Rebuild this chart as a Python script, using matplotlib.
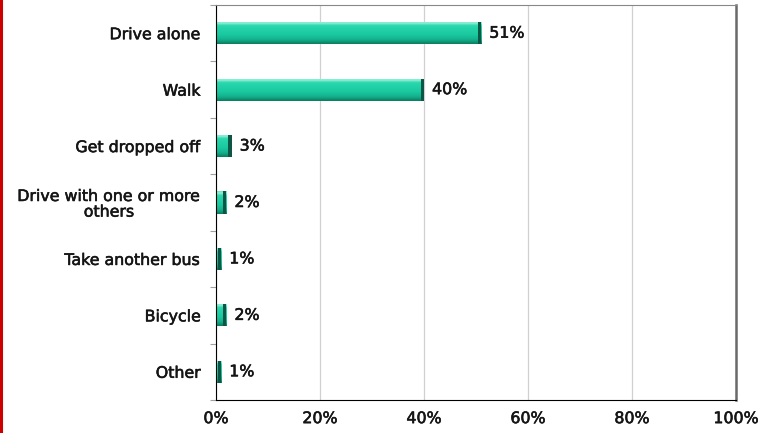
import numpy as np
import matplotlib
matplotlib.use("Agg")
import matplotlib.pyplot as plt
import matplotlib.patheffects as pe
from matplotlib.colors import LinearSegmentedColormap
from matplotlib.patches import Rectangle
from matplotlib.ticker import FuncFormatter, MultipleLocator

# commute mode shares (percent)
modes = ["Drive alone", "Walk", "Get dropped off", "Drive with one or more\nothers",
         "Take another bus", "Bicycle", "Other"]
shares = [51, 40, 3, 2, 1, 2, 1]

plt.rcParams['font.family'] = ['DejaVu Sans']
FS = 11.4
INK = "#151515"
# a touch heavier than the regular weight
heavy = [pe.withStroke(linewidth=0.4, foreground=INK)]

fig = plt.figure(figsize=(7.6, 4.33), dpi=100)
ax = fig.add_axes([216 / 760, 1 - 400 / 433, 520 / 760, 395 / 433])

pos = np.arange(len(modes))
bars = ax.barh(pos, shares, height=0.39, color="#19c79c", edgecolor="none", zorder=3)

# vertical shading inside each bar: light top edge, darker bottom edge
shade = LinearSegmentedColormap.from_list(
    "shade", [(0.0, "#5fe4c0"), (0.08, "#9ef2da"), (0.18, "#2ad8ae"),
              (0.6, "#1ac8a0"), (0.82, "#13b08b"), (1.0, "#0b7c60")])
grad = np.linspace(0, 1, 64).reshape(-1, 1)
for b, v in zip(bars, shares):
    y0 = b.get_y()
    h = b.get_height()
    # row 0 of grad goes to the top of the bar (y axis is inverted)
    im = ax.imshow(grad, cmap=shade, aspect="auto", origin="upper",
                   extent=(0, v, y0 + h, y0), zorder=4, interpolation="bicubic")
    im.set_clip_path(b)
    # dark end cap
    cap = min(0.6, v * 0.65)
    ax.add_patch(Rectangle((v - cap, y0), cap, h, facecolor="#0d5645",
                           edgecolor="none", zorder=5))
    ax.text(v + 1.55, y0 + h / 2, f"{v}%", va="center", ha="left",
            fontsize=FS, color=INK, zorder=6, path_effects=heavy)

ax.set_xlim(0, 100)
ax.set_ylim(len(modes) - 0.5, -0.5)
ax.xaxis.set_major_locator(MultipleLocator(20))
ax.xaxis.set_major_formatter(FuncFormatter(lambda x, _: f"{x:.0f}%"))
ax.grid(axis="x", color="#d0d0d0", linewidth=0.9, zorder=0)

ax.set_yticks(pos)
ax.set_yticklabels(modes, fontsize=FS, color=INK, multialignment="center",
                   linespacing=1.05)
ax.set_yticks(np.arange(len(modes) + 1) - 0.5, minor=True)
ax.tick_params(axis="y", which="major", length=0, pad=10.8)
ax.tick_params(axis="y", which="minor", length=4, color="#a0a0a0", width=0.8)
ax.tick_params(axis="x", length=0, pad=8, labelsize=FS, labelcolor=INK)
for lbl in ax.get_xticklabels() + ax.get_yticklabels():
    lbl.set_path_effects(heavy)

ax.spines["left"].set_color("black")
ax.spines["bottom"].set_color("black")
ax.spines["top"].set_color("#888888")
ax.spines["right"].set_color("#6a6a6a")
ax.spines["right"].set_linewidth(1.8)
for s in ax.spines.values():
    s.set_zorder(7)

# red rule down the left edge
fig.add_artist(plt.Line2D([1 / 760, 1 / 760], [0, 1], color="#cc0000",
                          linewidth=2.2, transform=fig.transFigure))

fig.savefig("out.png", dpi=100)
